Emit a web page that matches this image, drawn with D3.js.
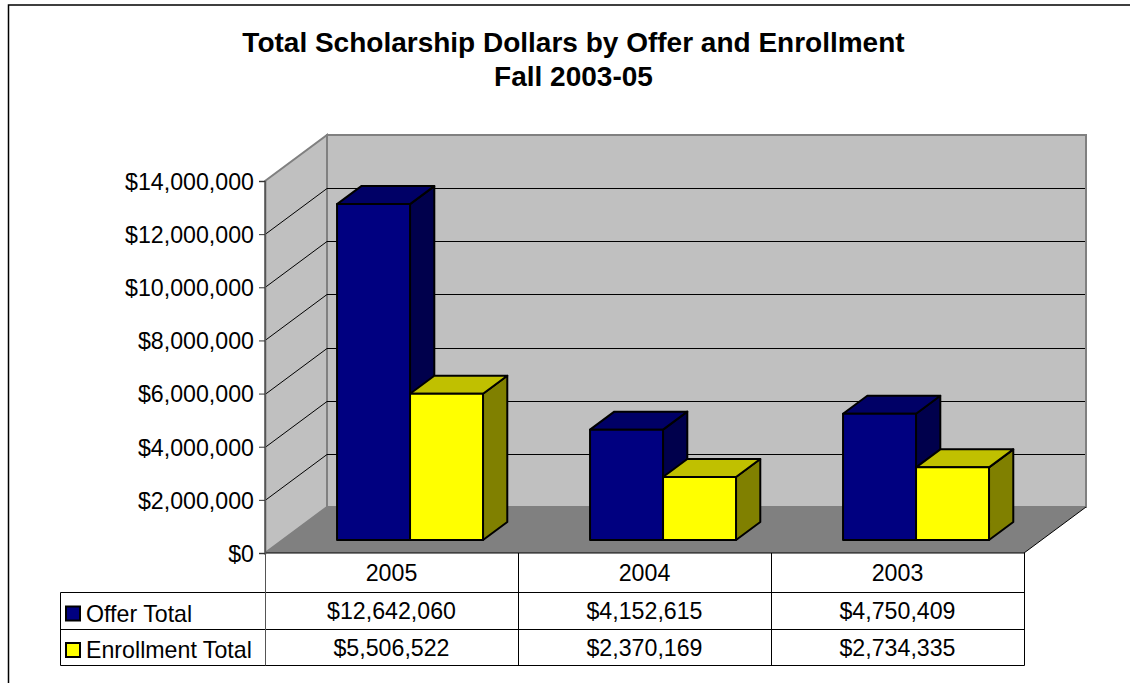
<!DOCTYPE html>
<html><head><meta charset="utf-8">
<script src="https://cdn.jsdelivr.net/npm/d3@7/dist/d3.min.js"></script>
<style>html,body{margin:0;padding:0;background:#fff}svg{display:block}text{font-family:"Liberation Sans",Arial,sans-serif;fill:#000}</style>
</head><body><svg id="c" width="1130" height="683"></svg>
<script>
const categories = ["2005","2004","2003"];
const offerTotal = [12642060,4152615,4750409];
const enrollmentTotal = [5506522,2370169,2734335];
const seriesNames = ["Offer Total","Enrollment Total"];
const yTicks = [0,2000000,4000000,6000000,8000000,10000000,12000000,14000000];
const titleLines = ["Total Scholarship Dollars by Offer and Enrollment","Fall 2003-05"];

const fmt = d3.format("$,.0f");
const svg = d3.select("#c");
const W = {x0:265,x1:1024,y0:553,y1:181,dx:62,dy:-46};
const y = d3.scaleLinear().domain([0,14000000]).range([W.y0,W.y1]);
const x = d3.scaleBand().domain(categories).range([W.x0,W.x1]);
const z = d3.scaleLinear().domain([0,1]).range([0,1]);
const ox = t=>W.dx*z(t), oy = t=>W.dy*z(t);
const poly = pts=>pts.map(p=>p.join(",")).join(" ");
const GRAY="#808080";
const FS=23.2;

// frame
svg.append("path").attr("d","M8.5,683V5H1130").attr("fill","none").attr("stroke","#000").attr("stroke-width",1.5);

// walls
svg.append("polygon").attr("points",poly([[W.x0+W.dx,y(14e6)+W.dy],[W.x1+W.dx,y(14e6)+W.dy],[W.x1+W.dx,y(0)+W.dy],[W.x0+W.dx,y(0)+W.dy]]))
  .attr("fill","#c0c0c0").attr("stroke",GRAY).attr("stroke-width",2);
svg.append("polygon").attr("points",poly([[W.x0,y(14e6)],[W.x0+W.dx,y(14e6)+W.dy],[W.x0+W.dx,y(0)+W.dy],[W.x0,y(0)]]))
  .attr("fill","#c0c0c0").attr("stroke",GRAY).attr("stroke-width",2);
// floor
svg.append("polygon").attr("points",poly([[W.x0,y(0)],[W.x1,y(0)],[W.x1+W.dx,y(0)+W.dy],[W.x0+W.dx,y(0)+W.dy]]))
  .attr("fill",GRAY);
// grid lines
const grid = svg.append("g").attr("fill","none").attr("stroke","#000").attr("stroke-width",1);
yTicks.filter(d=>d>0&&d<14e6).forEach(d=>{
  const yy=Math.round(y(d))+.5;
  grid.append("path").attr("d",`M${W.x0},${yy}L${W.x0+W.dx},${yy+W.dy}H${W.x1+W.dx-1}`);
});
// floor edge
svg.append("path").attr("d",`M${W.x0},${y(0)}H${W.x1}L${W.x1+W.dx},${y(0)+W.dy}`).attr("fill","none").attr("stroke","#000").attr("stroke-width",1);
// axis
const axisG = svg.append("g").attr("transform",`translate(${W.x0},0)`)
  .call(d3.axisLeft(y).tickValues(yTicks).tickFormat(fmt).tickSize(6).tickPadding(5));
axisG.selectAll(".domain").attr("stroke","#555").attr("stroke-width",1.5);
axisG.selectAll(".tick line").attr("stroke","#333");
axisG.selectAll("text").attr("font-size",FS).attr("dy","0.36em").style("font-family",'"Liberation Sans"');

// bars
const barW = x.bandwidth()*0.2885;
const gap = x.bandwidth()*0.2155;
const t0 = 13/46, t1 = 31/46;
const colors=[{front:"#000080",top:"#000066",side:"#00004c"},{front:"#ffff00",top:"#c0c000",side:"#808000"}];
const series=[offerTotal,enrollmentTotal];
const bars=svg.append("g").attr("stroke","#000").attr("stroke-width",2).attr("stroke-linejoin","round");
categories.forEach((c,i)=>{
  series.forEach((s,j)=>{
    const xl=x(c)+gap+j*barW+ox(t0), xr=xl+barW, yt=y(s[i])+oy(t0), yb=y(0)+oy(t0);
    const ddx=ox(t1-t0), ddy=oy(t1-t0), col=colors[j];
    bars.append("polygon").attr("points",poly([[xr,yt],[xr+ddx,yt+ddy],[xr+ddx,yb+ddy],[xr,yb]])).attr("fill",col.side);
    bars.append("polygon").attr("points",poly([[xl,yt],[xl+ddx,yt+ddy],[xr+ddx,yt+ddy],[xr,yt]])).attr("fill",col.top);
    bars.append("rect").attr("x",xl).attr("y",yt).attr("width",barW).attr("height",yb-yt).attr("fill",col.front);
  });
});

// data table
const rowY=[553,592.5,629.5,665.5];
const tableLeft=60.5;
const tbl=svg.append("g").attr("stroke","#000").attr("stroke-width",1).attr("fill","none");
tbl.append("path").attr("d",`M${tableLeft},${rowY[1]}H${W.x1+.5}M${tableLeft},${rowY[2]}H${W.x1+.5}M${tableLeft},${rowY[3]}H${W.x1+.5}M${tableLeft},${rowY[1]}V${rowY[3]}`);
categories.forEach((c,i)=>{
  const xx=Math.round(x(c))+.5;
  tbl.append("path").attr("d",`M${xx},${rowY[0]}V${rowY[3]}`).attr("stroke",i?"#000":"#555");
});
tbl.append("path").attr("d",`M${W.x1+.5},${rowY[0]}V${rowY[3]}`);
const txt=(t,xx,yy,a)=>svg.append("text").attr("x",xx).attr("y",yy).attr("text-anchor",a||"middle").attr("font-size",FS).attr("dy","0.36em").text(t);
categories.forEach((c,i)=>{
  const cx=x(c)+x.bandwidth()/2;
  txt(c,cx,(rowY[0]+rowY[1])/2);
  txt(fmt(offerTotal[i]),cx,(rowY[1]+rowY[2])/2);
  txt(fmt(enrollmentTotal[i]),cx,(rowY[2]+rowY[3])/2+.5);
});
seriesNames.forEach((n,j)=>{
  const cy=(rowY[j+1]+rowY[j+2])/2+2.5;
  svg.append("rect").attr("x",66).attr("y",cy-7).attr("width",14).attr("height",14).attr("fill",colors[j].front).attr("stroke","#000").attr("stroke-width",2);
  txt(n,86,cy,"start");
});
// title
titleLines.forEach((t,i)=>{
  svg.append("text").attr("x",573.5).attr("y",52+i*34).attr("text-anchor","middle").attr("font-size",28).attr("font-weight","bold").text(t);
});
</script></body></html>
